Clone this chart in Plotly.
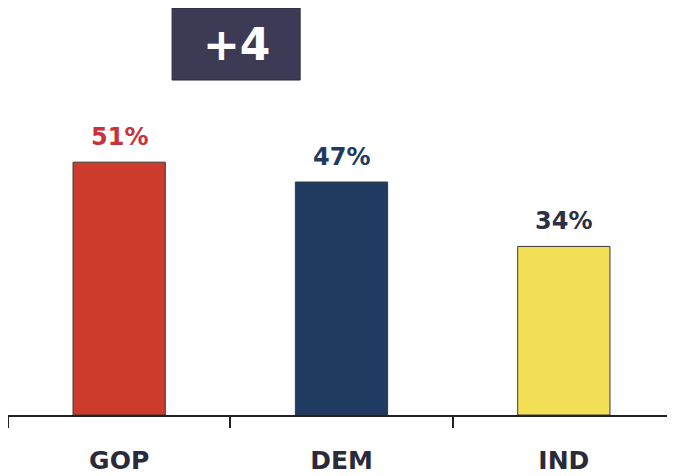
import plotly.graph_objects as go

parties = ["GOP", "DEM", "IND"]
shares = [51, 47, 34]
bar_colors = ["#CC3B2C", "#1F3B62", "#F2DF55"]
label_colors = ["#C8323A", "#1F3B62", "#2E2E45"]
lead_text = "+4"

fig = go.Figure()

fig.add_trace(go.Bar(
    x=parties,
    y=shares,
    width=0.415,
    marker=dict(color=bar_colors, line=dict(color="#3A3A3A", width=1)),
    hoverinfo="skip",
))

# percent labels above the bars
for p, v, c in zip(parties, shares, label_colors):
    fig.add_annotation(
        x=p, y=v, text=f"<b>{v}%</b>", showarrow=False,
        yanchor="bottom", yshift=9,
        font=dict(family="DejaVu Sans", size=24, color=c),
    )

# the "+4" box
fig.add_shape(type="rect", xref="paper", yref="paper", layer="below",
              x0=0.246, x1=0.438, y0=0.823, y1=1.0,
              fillcolor="#3D3A55", line=dict(color="#2C2A40", width=1))
fig.add_annotation(xref="paper", yref="paper", x=0.342, y=0.911,
                   xanchor="center", yanchor="middle",
                   text=f"<b>{lead_text}</b>", showarrow=False,
                   font=dict(family="DejaVu Sans", size=44, color="white"))

# page body has an 8px margin, so the figure is a bit smaller than the window
fig.update_layout(
    width=667, height=468,
    margin=dict(l=0, r=0, t=0, b=61),
    paper_bgcolor="white", plot_bgcolor="white",
    showlegend=False,
    xaxis=dict(
        range=[-0.5, 2.5],
        automargin=False,
        showline=True, linecolor="#222222", linewidth=2,
        ticks="outside", tickson="boundaries", ticklen=11,
        tickcolor="#222222", tickwidth=2,
        tickfont=dict(family="DejaVu Sans", size=25, color="#2A2A3A"),
        ticklabelstandoff=22,
        showgrid=False,
    ),
    yaxis=dict(range=[0, 82.1], visible=False, showgrid=False),
)

fig.update_xaxes(ticktext=[f"<b>{p}</b>" for p in parties], tickvals=parties)

fig.write_html("out.html")
